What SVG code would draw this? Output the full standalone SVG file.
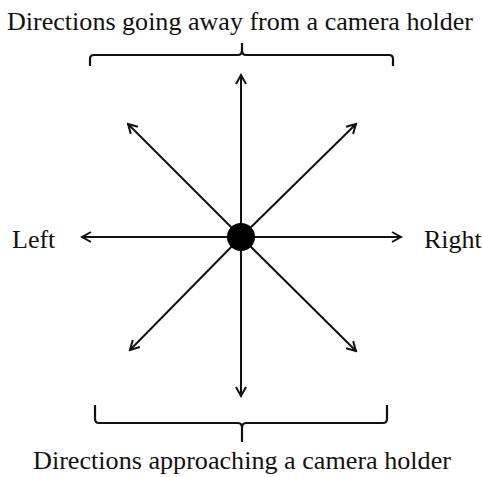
<svg xmlns="http://www.w3.org/2000/svg" width="483" height="477" viewBox="0 0 483 477">
<defs>
<style>
text{font-family:"Times New Roman","Liberation Serif",Tinos,serif;font-size:26px;fill:#111}
.ln{stroke:#111;stroke-width:2;fill:none}
.br{stroke:#111;stroke-width:2.2;fill:none;stroke-linejoin:round}
</style>
<marker id="ah" viewBox="0 0 12 12" refX="10" refY="6" markerWidth="12" markerHeight="12" markerUnits="userSpaceOnUse" orient="auto">
<path d="M1,1 L10,6 L1,11" fill="none" stroke="#111" stroke-width="2"/>
</marker>
</defs>
<g id="connectors">
<line class="ln" x1="241" y1="237" x2="241" y2="75" marker-end="url(#ah)"/>
<line class="ln" x1="241" y1="237" x2="241" y2="396" marker-end="url(#ah)"/>
<line class="ln" x1="241" y1="237" x2="82" y2="237" marker-end="url(#ah)"/>
<line class="ln" x1="241" y1="237" x2="401" y2="237" marker-end="url(#ah)"/>
<line class="ln" x1="241" y1="237" x2="128" y2="124" marker-end="url(#ah)"/>
<line class="ln" x1="241" y1="237" x2="356" y2="124" marker-end="url(#ah)"/>
<line class="ln" x1="241" y1="237" x2="130" y2="350" marker-end="url(#ah)"/>
<line class="ln" x1="241" y1="237" x2="356" y2="351" marker-end="url(#ah)"/>
</g>
<g id="center"><circle cx="241" cy="237" r="14" fill="#000"/></g>
<g id="top-brace">
<path class="br" d="M90,66 L90,59 Q90,55 94,55 L238,55 Q242,55 242,50 L242,43 M242,50 Q242,55 246,55 L389,55 Q393,55 393,59 L393,66"/>
<text x="240" y="30" text-anchor="middle" textLength="466" lengthAdjust="spacingAndGlyphs">Directions going away from a camera holder</text>
</g>
<g id="bottom-brace">
<path class="br" d="M95,405 L95,419 Q95,423 99,423 L238,423 Q242,423 242,428 L242,442 M242,428 Q242,423 246,423 L383,423 Q387,423 387,419 L387,405"/>
<text x="242" y="469" text-anchor="middle" font-size="24" textLength="418" lengthAdjust="spacingAndGlyphs">Directions approaching a camera holder</text>
</g>
<g id="left"><text x="12" y="248">Left</text></g>
<g id="right"><text x="424" y="248">Right</text></g>
</svg>
